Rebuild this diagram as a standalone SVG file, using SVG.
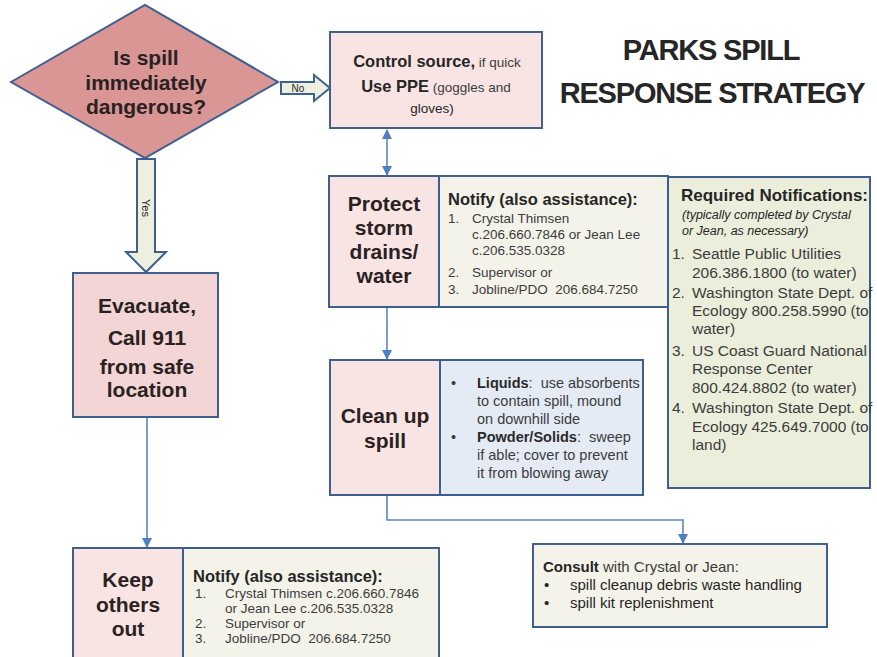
<svg xmlns="http://www.w3.org/2000/svg" width="877" height="657" viewBox="0 0 877 657">
<defs>
<style>
text{font-family:"Liberation Sans",Arial,sans-serif;fill:#262626}
.box{stroke:#3f5f8f;stroke-width:2}
.pink{fill:#f8e4e3}
.pink2{fill:#f2d5d4}
.beige{fill:#f4f3e9}
.green{fill:#ebeedb}
.blue{fill:#e4ebf5}
.h{font-weight:bold;text-anchor:middle;font-size:21px;fill:#2a2222}
.nt{font-weight:bold;font-size:16.5px}
.li{font-size:13.5px;fill:#3c3c3c}
.rq{font-size:15.5px;fill:#3c3c3c}
.cl{font-size:14.5px;fill:#3c3c3c}
.conn{fill:none;stroke:#5b87c2;stroke-width:1.6}
.blk{fill:#edf0de;stroke:#3f5f8f;stroke-width:2}
</style>
<marker id="ah" markerWidth="10" markerHeight="10" refX="9" refY="5" orient="auto" markerUnits="userSpaceOnUse">
<path d="M0,0 L10,5 L0,10 Z" fill="#4f7fc0"/>
</marker>
<marker id="ahs" markerWidth="10" markerHeight="10" refX="1" refY="5" orient="auto" markerUnits="userSpaceOnUse">
<path d="M10,0 L0,5 L10,10 Z" fill="#4f7fc0"/>
</marker>
</defs>
<rect width="877" height="657" fill="#ffffff"/>

<g id="title">
<text x="711" y="60" font-size="29" font-weight="bold" letter-spacing="-1.2" text-anchor="middle" fill="#111">PARKS SPILL</text>
<text x="712" y="103" font-size="29" font-weight="bold" letter-spacing="-1.2" text-anchor="middle" fill="#111">RESPONSE STRATEGY</text>
</g>

<g id="connectors">
<g id="no-arrow">
<polygon class="blk" points="281,82 314,82 314,75 330,88 314,101 314,94 281,94"/>
<text x="298" y="92" font-size="10" text-anchor="middle" fill="#333">No</text>
</g>
<g id="yes-arrow">
<polygon class="blk" points="137,159 155,159 155,252 166,252 146,272 126,252 137,252"/>
<text x="0" y="0" font-size="11" text-anchor="middle" fill="#333" transform="translate(142,208) rotate(90)">Yes</text>
</g>
<line class="conn" x1="387" y1="130" x2="387" y2="175" marker-start="url(#ahs)" marker-end="url(#ah)"/>
<line class="conn" x1="387" y1="308" x2="387" y2="359" marker-end="url(#ah)"/>
<path class="conn" d="M387,496 V520 H683 V543" marker-end="url(#ah)"/>
<line class="conn" x1="147" y1="418" x2="147" y2="547" marker-end="url(#ah)"/>
</g>

<g id="decision">
<polygon points="11,82 145,5 278,82 145,158" fill="#d99694" stroke="#3f5f8f" stroke-width="2"/>
<text class="h" font-size="20" x="146" y="65">Is spill</text>
<text class="h" font-size="20" x="146" y="89.5">immediately</text>
<text class="h" font-size="20" x="146" y="114">dangerous?</text>
</g>

<g id="control-source">
<rect class="box pink" x="330" y="32" width="212" height="96"/>
<text x="437" y="67" text-anchor="middle"><tspan class="nt">Control source,</tspan><tspan font-size="13.5" fill="#3c3c3c"> if quick</tspan></text>
<text x="436" y="92" text-anchor="middle"><tspan class="nt">Use PPE</tspan><tspan font-size="13.5" fill="#3c3c3c"> (goggles and</tspan></text>
<text x="432" y="113" text-anchor="middle" font-size="13.5" fill="#3c3c3c">gloves)</text>
</g>

<g id="protect">
<rect class="box beige" x="329" y="176" width="339" height="131"/>
<rect class="box pink" x="329" y="176" width="110" height="131"/>
<text class="h" x="384" y="211">Protect</text>
<text class="h" x="384" y="235">storm</text>
<text class="h" x="384" y="259">drains/</text>
<text class="h" x="384" y="283">water</text>
<text class="nt" x="448" y="205">Notify (also assistance):</text>
<text class="li" x="448" y="223">1.</text><text class="li" x="472" y="223">Crystal Thimsen</text>
<text class="li" x="472" y="239">c.206.660.7846 or Jean Lee</text>
<text class="li" x="472" y="255">c.206.535.0328</text>
<text class="li" x="448" y="277">2.</text><text class="li" x="472" y="277">Supervisor or</text>
<text class="li" x="448" y="294">3.</text><text class="li" x="472" y="294" xml:space="preserve">Jobline/PDO  206.684.7250</text>
</g>

<g id="required-notifications">
<rect class="box green" x="668" y="177" width="202" height="311"/>
<text x="681" y="201" font-weight="bold" font-size="17">Required Notifications:</text>
<text x="682" y="219" font-size="12.5" font-style="italic" fill="#444">(typically completed by Crystal</text>
<text x="682" y="235" font-size="12.5" font-style="italic" fill="#444">or Jean, as necessary)</text>
<text class="rq" x="672" y="259">1.</text><text class="rq" x="692" y="259">Seattle Public Utilities</text>
<text class="rq" x="692" y="278">206.386.1800 (to water)</text>
<text class="rq" x="672" y="298">2.</text><text class="rq" x="692" y="298">Washington State Dept. of</text>
<text class="rq" x="692" y="316">Ecology 800.258.5990 (to</text>
<text class="rq" x="692" y="334">water)</text>
<text class="rq" x="672" y="356">3.</text><text class="rq" x="692" y="356">US Coast Guard National</text>
<text class="rq" x="692" y="374">Response Center</text>
<text class="rq" x="692" y="393">800.424.8802 (to water)</text>
<text class="rq" x="672" y="413">4.</text><text class="rq" x="692" y="413">Washington State Dept. of</text>
<text class="rq" x="692" y="432">Ecology 425.649.7000 (to</text>
<text class="rq" x="692" y="450">land)</text>
</g>

<g id="clean-up">
<rect class="box blue" x="330" y="360" width="313" height="135"/>
<rect class="box pink" x="330" y="360" width="110" height="135"/>
<text class="h" x="385" y="423">Clean up</text>
<text class="h" x="385" y="448">spill</text>
<text class="cl" x="451" y="388">•</text>
<text class="cl" x="477" y="388" xml:space="preserve"><tspan font-weight="bold" fill="#2a2a2a">Liquids</tspan>:  use absorbents</text>
<text class="cl" x="477" y="406">to contain spill, mound</text>
<text class="cl" x="477" y="424">on downhill side</text>
<text class="cl" x="451" y="442">•</text>
<text class="cl" x="477" y="442" xml:space="preserve"><tspan font-weight="bold" fill="#2a2a2a">Powder/Solids</tspan>:  sweep</text>
<text class="cl" x="477" y="460">if able; cover to prevent</text>
<text class="cl" x="477" y="478">it from blowing away</text>
</g>

<g id="evacuate">
<rect class="box pink2" x="73" y="273" width="145" height="144"/>
<text class="h" x="147" y="313" font-size="18.5">Evacuate,</text>
<text class="h" x="147" y="345" font-size="25" fill="#111">Call 911</text>
<text class="h" x="147" y="374" font-size="16.5">from safe</text>
<text class="h" x="147" y="397" font-size="16.5">location</text>
</g>

<g id="consult">
<rect class="box beige" x="533" y="544" width="294" height="83"/>
<text x="543" y="572" font-size="15"><tspan font-weight="bold">Consult</tspan><tspan fill="#3c3c3c"> with Crystal or Jean:</tspan></text>
<text x="544" y="590" font-size="15" fill="#333">•</text>
<text x="570" y="590" font-size="15" fill="#3c3c3c">spill cleanup debris waste handling</text>
<text x="544" y="608" font-size="15" fill="#333">•</text>
<text x="570" y="608" font-size="15" fill="#3c3c3c">spill kit replenishment</text>
</g>

<g id="keep-others-out">
<rect class="box beige" x="73" y="548" width="366" height="120"/>
<rect class="box pink" x="73" y="548" width="110" height="120"/>
<text class="h" x="128" y="587">Keep</text>
<text class="h" x="128" y="612">others</text>
<text class="h" x="128" y="636">out</text>
<text class="nt" x="193" y="582" font-size="16">Notify (also assistance):</text>
<text class="li" x="195" y="598">1.</text><text class="li" x="225" y="598">Crystal Thimsen c.206.660.7846</text>
<text class="li" x="225" y="613">or Jean Lee c.206.535.0328</text>
<text class="li" x="195" y="628">2.</text><text class="li" x="225" y="628">Supervisor or</text>
<text class="li" x="195" y="643">3.</text><text class="li" x="225" y="643" xml:space="preserve">Jobline/PDO  206.684.7250</text>
</g>
</svg>
